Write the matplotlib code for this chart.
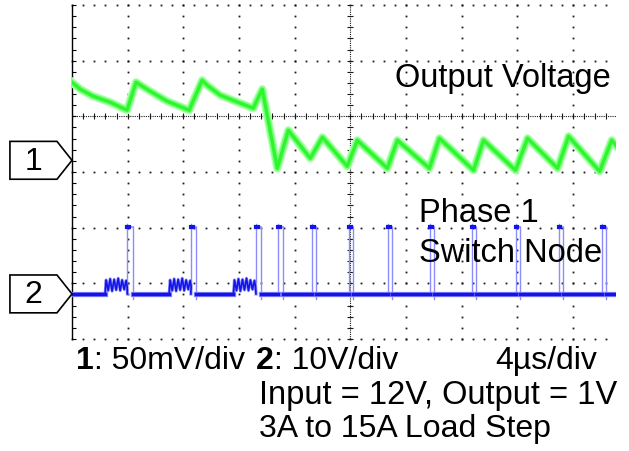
import numpy as np
import matplotlib
matplotlib.use("Agg")
import matplotlib.pyplot as plt
from matplotlib.patches import Polygon

plt.rcParams['font.family'] = ['Liberation Sans', 'DejaVu Sans']

# Scope settings
t_div = 4.0        # us/div
ch1_div = 50.0     # mV/div
ch2_div = 10.0     # V/div
ch1_pos = -0.79    # marker position in divisions (0 = screen centre)
ch2_pos = -3.19

# Channel 1: output voltage (mV around marker), time in us from left edge
vout_t = [0.0, 0.58, 1.51, 2.73, 3.96, 4.60, 5.61, 6.83, 8.42, 9.35, 9.71,
          10.65, 12.09, 13.02, 13.67, 14.75, 15.54, 17.12, 17.99, 19.78,
          20.50, 22.66, 23.38, 25.68, 26.40, 28.85, 29.57, 31.87, 32.73,
          34.89, 35.68, 37.91, 38.78, 39.14]
vout_mv = [70.1, 63.9, 57.6, 52.2, 45.0, 70.1, 62.1, 53.1, 45.0, 71.9, 67.4,
           58.5, 51.3, 46.8, 63.9, -7.2, 27.0, 1.8, 20.7, -5.4,
           18.0, -7.2, 18.0, -7.2, 19.8, -9.0, 18.0, -9.0, 19.8,
           -7.2, 21.6, -9.9, 18.0, 12.6]

# Channel 2: phase 1 switch node
sw_rise_us = [3.98, 8.54, 13.22, 14.82, 17.27, 19.93, 22.73, 25.75, 28.77,
              31.87, 34.96, 38.06]
sw_on_us = [0.39, 0.38, 0.36, 0.36, 0.29, 0.29, 0.29, 0.29, 0.29, 0.29,
            0.29, 0.29]
sw_high_v = 12.0
sw_over_v = 12.5
# ringing before the first three pulses (light load, DCM)
burst_start_us = [2.38, 6.98, 11.60]
ring_t = [0.0, 0.07, 0.22, 0.36, 0.50, 0.65, 0.79, 0.94, 1.08, 1.22, 1.37,
          1.51, 1.58]
ring_v = [0.0, 2.5, 0.6, 2.7, 0.5, 2.6, 0.7, 2.8, 0.6, 2.5, 0.8, 2.4, 1.4]
t_end = 39.14

fig = plt.figure(figsize=(6.29, 4.52), dpi=100)
W, H = 629.0, 452.0
ax = fig.add_axes([72 / W, (H - 340) / H, (616 - 72) / W, 334 / H])
xmax = 544 / 55.67
ax.set_xlim(0, xmax)
ax.set_ylim(-4, 2)
ax.axis('off')

# graticule
gc = '#1a1a1a'
xs = np.arange(0, xmax, 0.2)
ys = np.arange(-4, 2.01, 0.2)
for gy in [2, 1, -1, -2, -3, -4]:
    ax.plot(xs, np.full(len(xs), gy), ls='none', marker='s', ms=1.3,
            mew=0, color=gc, zorder=1, clip_on=False)
for gx in [1, 2, 3, 4, 6, 7, 8, 9]:
    ax.plot(np.full(len(ys), gx), ys, ls='none', marker='s', ms=1.3,
            mew=0, color=gc, zorder=1, clip_on=False)
# centre lines with ticks
ax.plot([0, xmax], [0, 0], ls=(0, (1, 1)), lw=0.8, color=gc, zorder=1)
ax.plot(xs, np.zeros(len(xs)), ls='none', marker='|', ms=4, mew=0.8,
        color=gc, zorder=1)
ax.plot([5, 5], [-4, 2], ls=(0, (1, 1)), lw=0.8, color=gc, zorder=1)
ax.plot(np.full(len(ys), 5), ys, ls='none', marker='_', ms=4, mew=0.8,
        color=gc, zorder=1, clip_on=False)
# left edge
ax.plot([0, 0], [-4, 2], color='k', lw=1.0, zorder=1, clip_on=False)
ax.plot(np.zeros(len(ys)), ys, ls='none', marker=1, ms=3, mew=0.8,
        color='k', zorder=1, clip_on=False)

# channel 1 trace
x1 = np.array(vout_t) / t_div
y1 = ch1_pos + np.array(vout_mv) / ch1_div
ax.plot(x1, y1, color='#b8ffb8', lw=6.0, solid_joinstyle='round', zorder=3)
ax.plot(x1, y1, color='#7cff7c', lw=4.4, solid_joinstyle='round', zorder=3)
ax.plot(x1, y1, color='#2ef52e', lw=2.4, solid_joinstyle='round', zorder=4)

# channel 2 trace: baseline pieces, ringing, edges and tops
dark = '#1414e6'
light = '#8c8cff'
prev = 0.0
for tr, ton in zip(sw_rise_us + [t_end], sw_on_us + [0]):
    flat_end = tr
    for b in burst_start_us:
        if prev < b < tr:
            flat_end = b
            rx = np.array([b + d for d in ring_t] + [tr]) / t_div
            ry = ch2_pos + np.array(ring_v + [0.0]) / ch2_div
            ax.plot(rx, ry, color=light, lw=2.2, zorder=3)
            ax.plot(rx, ry, color=dark, lw=1.2, zorder=4)
    fx = np.array([prev, flat_end]) / t_div
    fy = np.full(2, ch2_pos)
    ax.plot(fx, fy, color=light, lw=3.8, zorder=3)
    ax.plot(fx, fy, color=dark, lw=2.5, zorder=4)
    if tr >= t_end:
        break
    tf = tr + ton
    # edges
    ax.plot([tr / t_div] * 2, [ch2_pos, ch2_pos + sw_over_v / ch2_div],
            color=light, lw=1.0, zorder=3)
    ax.plot([tf / t_div] * 2, [ch2_pos - 0.1, ch2_pos + sw_high_v / ch2_div],
            color=light, lw=1.0, zorder=3)
    ax.plot([tr / t_div, tf / t_div], [ch2_pos + sw_high_v / ch2_div] * 2,
            color=light, lw=1.2, zorder=3)
    ax.plot([tr / t_div, (tr + 0.13) / t_div],
            [ch2_pos + sw_over_v / ch2_div - 0.04] * 2,
            color=dark, lw=3.0, zorder=4)
    prev = tf

# channel markers
for pos, lab in [(ch1_pos, '1'), (ch2_pos, '2')]:
    pts = [(-1.115, pos + 0.34), (-0.27, pos + 0.34), (0, pos),
           (-0.27, pos - 0.34), (-1.115, pos - 0.34)]
    ax.add_patch(Polygon(pts, closed=True, fc='white', ec='k', lw=1.2,
                         clip_on=False, zorder=5))
    ax.text(-0.69, pos - 0.01, lab, ha='center', va='center', fontsize=23,
            zorder=6)


def ftext(x, y, s, **kw):
    return fig.text(x / W, 1 - y / H, s, va='baseline', **kw)


ftext(395, 86.5, 'Output Voltage', fontsize=23.5)
ftext(419, 221.7, 'Phase 1', fontsize=23.5)
ftext(419, 261.7, 'Switch Node', fontsize=23.5)

t1 = ftext(76, 369.5, '1', fontsize=23, fontweight='bold')
ax.annotate(': 50mV/div', xy=(1, 0), xycoords=t1, va='bottom', ha='left',
            fontsize=23, annotation_clip=False)
t2 = ftext(256, 369.5, '2', fontsize=23, fontweight='bold')
ax.annotate(': 10V/div', xy=(1, 0), xycoords=t2, va='bottom', ha='left',
            fontsize=23, annotation_clip=False)
ftext(597, 369.5, '4\u00b5s/div', fontsize=23, ha='right')
ftext(259, 404, 'Input = 12V, Output = 1V', fontsize=23.5)
ftext(259, 437, '3A to 15A Load Step', fontsize=23)

fig.savefig('out.png', dpi=100)
